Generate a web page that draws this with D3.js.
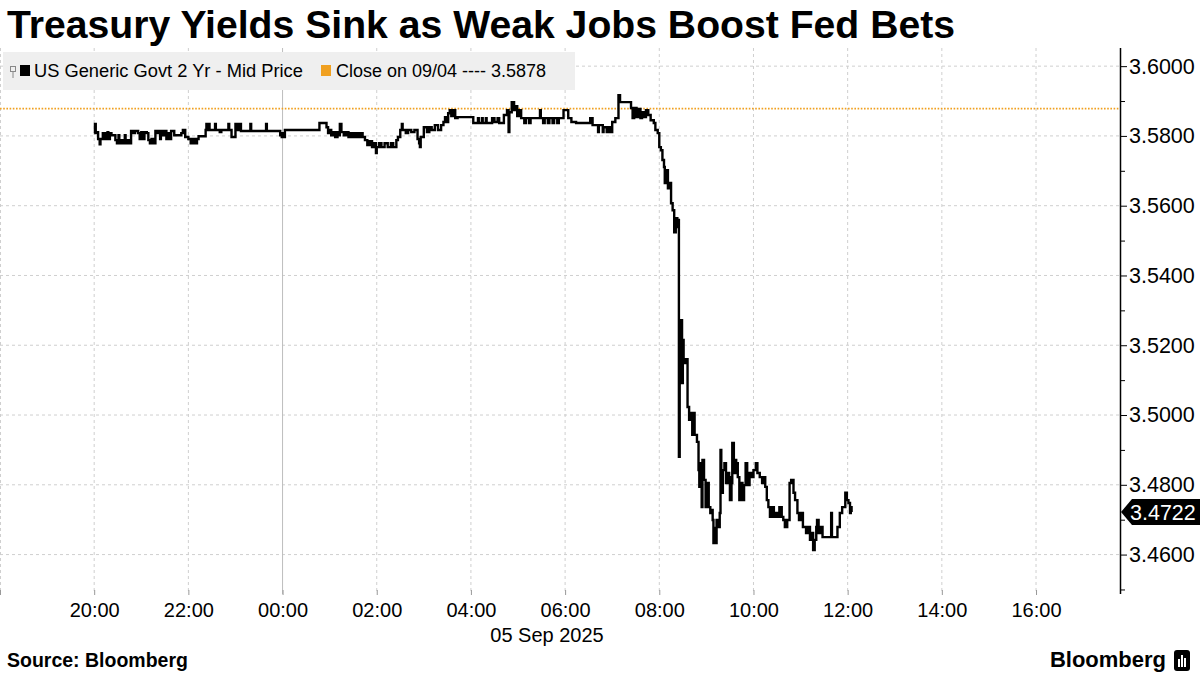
<!DOCTYPE html>
<html>
<head>
<meta charset="utf-8">
<script src="https://cdn.jsdelivr.net/npm/d3@7"></script>
<style>
	body { margin: 0; background: #fff; }
	svg text { font-family: "Liberation Sans", Arial, sans-serif; }
</style>
</head>
<body>
<svg id="chart" width="1200" height="675"></svg>
<script>
// Chart texts
var title = 'Treasury Yields Sink as Weak Jobs Boost Fed Bets';
var seriesName = 'US Generic Govt 2 Yr - Mid Price';
var closeLabel = 'Close on 09/04 ---- 3.5878';
var dateLabel = '05 Sep 2025';
var source = 'Source: Bloomberg';

// Reference levels
var prevClose = 3.5878;
var lastValue = 3.4722;

// Axis ticks
var yTicks = [3.46, 3.48, 3.50, 3.52, 3.54, 3.56, 3.58, 3.60];
var yMinorTicks = [3.45, 3.47, 3.49, 3.51, 3.53, 3.55, 3.57, 3.59];
var xTicks = ['18:00', '20:00', '22:00', '00:00', '02:00', '04:00', '06:00', '08:00', '10:00', '12:00', '14:00', '16:00'];

// US 2Y yield, intraday (time, yield)
var yields = [
	['20:00', 3.5808], ['20:01', 3.5834], ['20:02', 3.5808], ['20:04', 3.5811], ['20:05', 3.5791],
	['20:07', 3.5776], ['20:08', 3.5791], ['20:11', 3.5808], ['20:13', 3.5791], ['20:15', 3.5808],
	['20:17', 3.5811], ['20:18', 3.5791], ['20:20', 3.5808], ['20:22', 3.5802], ['20:27', 3.5788],
	['20:29', 3.5779], ['20:31', 3.5802], ['20:32', 3.5779], ['20:35', 3.5788], ['20:37', 3.5779],
	['20:39', 3.5802], ['20:40', 3.5779], ['20:43', 3.5788], ['20:45', 3.5779], ['20:47', 3.5814],
	['20:50', 3.5808], ['20:52', 3.5814], ['20:56', 3.5808], ['20:58', 3.5791], ['21:00', 3.5811],
	['21:03', 3.5791], ['21:04', 3.5811], ['21:07', 3.5808], ['21:09', 3.5788], ['21:11', 3.5779],
	['21:13', 3.5791], ['21:15', 3.5779], ['21:18', 3.5814], ['21:20', 3.5808], ['21:22', 3.5814],
	['21:24', 3.5791], ['21:25', 3.5814], ['21:28', 3.5802], ['21:30', 3.5814], ['21:32', 3.5791],
	['21:34', 3.5808], ['21:36', 3.5791], ['21:38', 3.5814], ['21:42', 3.5802], ['21:51', 3.5808],
	['21:53', 3.5817], ['21:56', 3.5797], ['22:00', 3.5791], ['22:03', 3.5779], ['22:06', 3.5791],
	['22:08', 3.5779], ['22:11', 3.5791], ['22:13', 3.5799], ['22:22', 3.5817], ['22:23', 3.5834],
	['22:24', 3.5817], ['22:26', 3.5834], ['22:27', 3.5817], ['22:34', 3.5834], ['22:35', 3.5817],
	['22:40', 3.5811], ['22:42', 3.5817], ['22:51', 3.5834], ['22:52', 3.5817], ['22:55', 3.5797],
	['23:00', 3.5834], ['23:02', 3.5817], ['23:04', 3.5834], ['23:07', 3.5814], ['23:19', 3.5834],
	['23:20', 3.5814], ['23:39', 3.5834], ['23:40', 3.5814], ['23:57', 3.5802], ['23:59', 3.5797],
	['00:00', 3.5808], ['00:01', 3.5797], ['00:03', 3.5817], ['00:47', 3.5837], ['00:56', 3.5825],
	['00:58', 3.5808], ['01:00', 3.5817], ['01:02', 3.5802], ['01:05', 3.5811], ['01:07', 3.5797],
	['01:10', 3.5811], ['01:12', 3.5802], ['01:13', 3.5834], ['01:15', 3.5811], ['01:18', 3.5802],
	['01:21', 3.5811], ['01:24', 3.5797], ['01:27', 3.5808], ['01:30', 3.5797], ['01:33', 3.5808],
	['01:36', 3.5797], ['01:39', 3.5808], ['01:42', 3.5797], ['01:45', 3.5788], ['01:48', 3.5774],
	['01:51', 3.5785], ['01:54', 3.5768], ['01:57', 3.5779], ['01:59', 3.5751], ['02:00', 3.5768],
	['02:03', 3.5779], ['02:06', 3.5768], ['02:10', 3.5779], ['02:14', 3.5768], ['02:18', 3.5779],
	['02:21', 3.5768], ['02:25', 3.5788], ['02:27', 3.5797], ['02:30', 3.5817], ['02:32', 3.5834],
	['02:33', 3.5817], ['02:37', 3.5808], ['02:40', 3.5817], ['02:44', 3.5811], ['02:48', 3.5817],
	['02:52', 3.5791], ['02:54', 3.5779], ['02:55', 3.5768], ['02:56', 3.5797], ['03:00', 3.5825],
	['03:04', 3.5811], ['03:07', 3.5825], ['03:10', 3.5817], ['03:14', 3.5831], ['03:18', 3.5817],
	['03:22', 3.5831], ['03:25', 3.5840], ['03:27', 3.5854], ['03:29', 3.5840], ['03:31', 3.5865],
	['03:33', 3.5874], ['03:35', 3.5857], ['03:37', 3.5874], ['03:40', 3.5851], ['03:43', 3.5854],
	['04:03', 3.5837], ['04:08', 3.5837], ['04:09', 3.5851], ['04:10', 3.5837], ['04:14', 3.5851],
	['04:15', 3.5837], ['04:19', 3.5851], ['04:20', 3.5837], ['04:27', 3.5851], ['04:30', 3.5840],
	['04:34', 3.5851], ['04:36', 3.5837], ['04:42', 3.5860], ['04:46', 3.5874], ['04:48', 3.5811],
	['04:49', 3.5868], ['04:52', 3.5897], ['04:55', 3.5874], ['04:57', 3.5885], ['04:59', 3.5857],
	['05:01', 3.5874], ['05:04', 3.5851], ['05:08', 3.5837], ['05:10', 3.5851], ['05:14', 3.5837],
	['05:16', 3.5851], ['05:27', 3.5851], ['05:28', 3.5874], ['05:29', 3.5851], ['05:32', 3.5837],
	['05:34', 3.5851], ['05:38', 3.5837], ['05:40', 3.5851], ['05:44', 3.5837], ['05:46', 3.5851],
	['05:50', 3.5837], ['05:52', 3.5851], ['05:58', 3.5874], ['06:04', 3.5851], ['06:08', 3.5840],
	['06:14', 3.5837], ['06:32', 3.5851], ['06:35', 3.5831], ['06:42', 3.5811], ['06:43', 3.5831],
	['06:48', 3.5811], ['06:49', 3.5825], ['06:53', 3.5811], ['06:55', 3.5825], ['06:57', 3.5811],
	['07:00', 3.5840], ['07:04', 3.5851], ['07:08', 3.5917], ['07:10', 3.5897], ['07:24', 3.5880],
	['07:26', 3.5851], ['07:28', 3.5880], ['07:31', 3.5854], ['07:33', 3.5877], ['07:36', 3.5851],
	['07:38', 3.5868], ['07:41', 3.5854], ['07:43', 3.5874], ['07:46', 3.5860], ['07:49', 3.5845],
	['07:53', 3.5837], ['07:55', 3.5817], ['07:58', 3.5808], ['08:00', 3.5768], ['08:02', 3.5759],
	['08:04', 3.5731], ['08:06', 3.5711], ['08:07', 3.5665], ['08:09', 3.5702], ['08:11', 3.5650],
	['08:13', 3.5665], ['08:15', 3.5607], ['08:17', 3.5587], ['08:19', 3.5524], ['08:21', 3.5564],
	['08:23', 3.5539], ['08:24', 3.5559], ['08:25', 3.4880], ['08:26', 3.5272], ['08:27', 3.5149],
	['08:28', 3.5272], ['08:29', 3.5092], ['08:30', 3.5215], ['08:31', 3.5149], ['08:34', 3.5160],
	['08:36', 3.5023], ['08:38', 3.4986], ['08:40', 3.5006], ['08:42', 3.4943], ['08:43', 3.5006],
	['08:45', 3.4943], ['08:48', 3.4923], ['08:50', 3.4842], ['08:51', 3.4794], ['08:53', 3.4862],
	['08:54', 3.4736], ['08:55', 3.4871], ['08:57', 3.4814], ['08:59', 3.4736], ['09:01', 3.4805],
	['09:03', 3.4736], ['09:05', 3.4719], ['09:07', 3.4728], ['09:08', 3.4699], ['09:09', 3.4633],
	['09:10', 3.4676], ['09:11', 3.4633], ['09:13', 3.4699], ['09:15', 3.4679], ['09:17', 3.4719],
	['09:18', 3.4900], ['09:19', 3.4842], ['09:20', 3.4777], ['09:21', 3.4842], ['09:23', 3.4862],
	['09:25', 3.4805], ['09:27', 3.4834], ['09:29', 3.4822], ['09:30', 3.4756], ['09:32', 3.4805],
	['09:33', 3.4920], ['09:35', 3.4834], ['09:37', 3.4871], ['09:38', 3.4862], ['09:40', 3.4822],
	['09:42', 3.4756], ['09:44', 3.4805], ['09:46', 3.4756], ['09:48', 3.4799], ['09:50', 3.4862],
	['09:52', 3.4799], ['09:55', 3.4834], ['09:58', 3.4822], ['10:00', 3.4842], ['10:03', 3.4862],
	['10:05', 3.4834], ['10:08', 3.4822], ['10:11', 3.4805], ['10:13', 3.4822], ['10:15', 3.4794],
	['10:17', 3.4756], ['10:19', 3.4736], ['10:21', 3.4708], ['10:24', 3.4736], ['10:26', 3.4708],
	['10:29', 3.4719], ['10:31', 3.4708], ['10:33', 3.4736], ['10:36', 3.4708], ['10:38', 3.4699],
	['10:40', 3.4679], ['10:43', 3.4699], ['10:46', 3.4805], ['10:48', 3.4814], ['10:51', 3.4777],
	['10:53', 3.4756], ['10:56', 3.4719], ['10:58', 3.4699], ['11:01', 3.4719], ['11:03', 3.4679],
	['11:07', 3.4662], ['11:10', 3.4679], ['11:12', 3.4642], ['11:14', 3.4662], ['11:16', 3.4613],
	['11:18', 3.4642], ['11:20', 3.4679], ['11:21', 3.4699], ['11:23', 3.4662], ['11:25', 3.4679],
	['11:28', 3.4650], ['11:38', 3.4650], ['11:39', 3.4719], ['11:40', 3.4650], ['11:46', 3.4650],
	['11:47', 3.4679], ['11:50', 3.4719], ['11:53', 3.4736], ['11:56', 3.4736], ['11:57', 3.4777],
	['11:59', 3.4756], ['12:01', 3.4748], ['12:03', 3.4719], ['12:04', 3.4736], ['12:05', 3.4722]
];

// Session runs from the evening of 09/04 into 09/05
function parseTime(s) {
	var p = s.split(':');
	var h = +p[0], m = +p[1];
	return h >= 18 ? new Date(2025, 8, 4, h, m) : new Date(2025, 8, 5, h, m);
}

var plot = { left: 0, right: 1120, top: 48, bottom: 594 };

var svg = d3.select('#chart');

var x = d3.scaleTime()
	.domain([new Date(2025, 8, 4, 18, 0), new Date(2025, 8, 5, 17, 47)])
	.range([plot.left, plot.right]);

var y = d3.scaleLinear()
	.domain([3.4487, 3.6052])
	.range([plot.bottom, plot.top]);

// Title
svg.append('text')
	.attr('x', 7)
	.attr('y', 38)
	.attr('font-size', 38)
	.attr('font-weight', 'bold')
	.attr('textLength', 948)
	.attr('lengthAdjust', 'spacingAndGlyphs')
	.text(title);

// Horizontal grid
svg.append('g').selectAll('line')
	.data(yTicks)
	.enter()
	.append('line')
	.attr('x1', plot.left)
	.attr('x2', plot.right)
	.attr('y1', function(d) { return y(d); })
	.attr('y2', function(d) { return y(d); })
	.attr('stroke', '#cfcfcf')
	.attr('stroke-dasharray', '3,3');

// Vertical grid, midnight is solid
svg.append('g').selectAll('line')
	.data(xTicks)
	.enter()
	.append('line')
	.attr('x1', function(d) { return Math.max(x(parseTime(d)), 0.5); })
	.attr('x2', function(d) { return Math.max(x(parseTime(d)), 0.5); })
	.attr('y1', plot.top)
	.attr('y2', plot.bottom)
	.attr('stroke', function(d) { return d == '00:00' ? '#bdbdbd' : '#cfcfcf'; })
	.attr('stroke-dasharray', function(d) { return d == '00:00' ? null : '3,3'; });

// Previous close
svg.append('line')
	.attr('x1', plot.left)
	.attr('x2', plot.right)
	.attr('y1', y(prevClose))
	.attr('y2', y(prevClose))
	.attr('stroke', '#f0a020')
	.attr('stroke-width', 1.8)
	.attr('stroke-dasharray', '1.6,1.6');

// Yield line
var line = d3.line()
	.curve(d3.curveStepAfter)
	.x(function(d) { return x(parseTime(d[0])); })
	.y(function(d) { return y(d[1]); });

svg.append('path')
	.datum(yields)
	.attr('d', line)
	.attr('fill', 'none')
	.attr('stroke', '#000')
	.attr('stroke-width', 2.4)
	.attr('stroke-linejoin', 'miter');

// Legend
var legend = svg.append('g');
legend.append('rect')
	.attr('x', 3).attr('y', 52)
	.attr('width', 572).attr('height', 38)
	.attr('fill', '#efefef');
legend.append('rect')
	.attr('x', 10.5).attr('y', 66.5)
	.attr('width', 5).attr('height', 5)
	.attr('fill', 'none')
	.attr('stroke', '#888');
legend.append('line')
	.attr('x1', 13).attr('x2', 13)
	.attr('y1', 72).attr('y2', 78)
	.attr('stroke', '#888');
legend.append('rect')
	.attr('x', 20).attr('y', 65)
	.attr('width', 10).attr('height', 11)
	.attr('fill', '#000');
legend.append('text')
	.attr('x', 34).attr('y', 77)
	.attr('font-size', 18.3)
	.text(seriesName);
legend.append('rect')
	.attr('x', 321).attr('y', 65)
	.attr('width', 10).attr('height', 11)
	.attr('fill', '#f0a020');
legend.append('text')
	.attr('x', 336).attr('y', 77)
	.attr('font-size', 18)
	.text(closeLabel);

// Y axis on the right
var yAxis = svg.append('g')
	.attr('transform', 'translate(' + plot.right + ',0)')
	.call(d3.axisRight(y).tickValues(yTicks).tickSize(7).tickPadding(2).tickFormat(d3.format('.4f')));
yAxis.select('.domain').remove();
yAxis.selectAll('text').attr('font-size', 21.5).attr('font-family', '"Liberation Sans", Arial, sans-serif');

var yMinor = svg.append('g')
	.attr('transform', 'translate(' + plot.right + ',0)')
	.call(d3.axisRight(y).tickValues(yMinorTicks).tickSize(5).tickFormat(''));
yMinor.select('.domain').remove();

svg.append('line')
	.attr('x1', plot.right + 0.5).attr('x2', plot.right + 0.5)
	.attr('y1', plot.top).attr('y2', plot.bottom)
	.attr('stroke', '#000')
	.attr('stroke-width', 1.5);

// X axis
var xAxis = svg.append('g')
	.attr('transform', 'translate(0,' + (plot.bottom - 4) + ')')
	.call(d3.axisBottom(x)
		.tickValues(xTicks.map(parseTime))
		.tickSize(5)
		.tickPadding(8)
		.tickFormat(function(d, i) { return i == 0 ? '' : xTicks[i]; }));
xAxis.select('.domain').remove();
xAxis.selectAll('line').attr('stroke', '#999');
xAxis.selectAll('text').attr('font-size', 20).attr('font-family', '"Liberation Sans", Arial, sans-serif');

svg.append('text')
	.attr('x', 547).attr('y', 642)
	.attr('text-anchor', 'middle')
	.attr('font-size', 20)
	.text(dateLabel);

// Last value tag
var tagY = y(lastValue);
svg.append('path')
	.attr('d', 'M' + (plot.right + 1) + ',' + tagY + 'L' + (plot.right + 12) + ',' + (tagY - 13) +
		'L1200,' + (tagY - 13) + 'L1200,' + (tagY + 13) + 'L' + (plot.right + 12) + ',' + (tagY + 13) + 'Z')
	.attr('fill', '#000');
svg.append('text')
	.attr('x', plot.right + 10).attr('y', tagY)
	.attr('dy', '0.36em')
	.attr('font-size', 21.5)
	.attr('fill', '#fff')
	.text(d3.format('.4f')(lastValue));

// Footer
svg.append('text')
	.attr('x', 7).attr('y', 667)
	.attr('font-size', 19.5)
	.attr('font-weight', 'bold')
	.text(source);

svg.append('text')
	.attr('x', 1166).attr('y', 667)
	.attr('text-anchor', 'end')
	.attr('font-size', 22)
	.attr('font-weight', 'bold')
	.text('Bloomberg');

var logo = svg.append('g').attr('transform', 'translate(1174,650)');
logo.append('rect')
	.attr('width', 16).attr('height', 21)
	.attr('rx', 3)
	.attr('fill', '#000');
logo.selectAll('.bar')
	.data([[4, 9], [7, 5], [10, 8]])
	.enter()
	.append('rect')
	.attr('class', 'bar')
	.attr('x', function(d) { return d[0]; })
	.attr('y', function(d) { return d[1]; })
	.attr('width', 2)
	.attr('height', function(d) { return 17 - d[1]; })
	.attr('fill', '#fff');
</script>
</body>
</html>
